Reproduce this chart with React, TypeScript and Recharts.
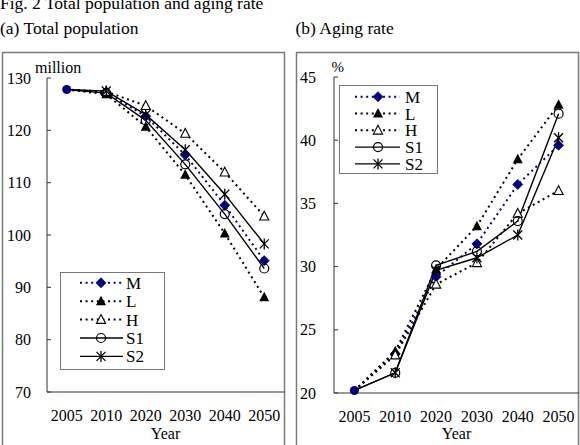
import React from 'react';
import { LineChart, Line, XAxis, YAxis, Legend } from 'recharts';

const FONT = '"Liberation Serif", "Times New Roman", serif';
const NAVY = '#000080';
const AXIS = '#333';

// category index on a numeric axis, so tick marks can sit between years
const years = ['2005', '2010', '2020', '2030', '2040', '2050'];
const yearIdx = [0, 1, 2, 3, 4, 5];
const bandEdges = [0.5, 1.5, 2.5, 3.5, 4.5, 5.5];

// (a) total population, million
const popM = [127.8, 127.2, 122.7, 115.3, 105.7, 95.1];
const popL = [127.8, 126.9, 120.7, 111.5, 100.3, 88.1];
const popH = [127.8, 127.4, 124.7, 119.4, 112.0, 103.6];
const popS1 = [127.8, 127.1, 121.9, 113.5, 104.0, 93.6];
const popS2 = [127.8, 127.5, 123.0, 116.3, 107.8, 98.3];
const popTicks = [70, 80, 90, 100, 110, 120, 130];

// (b) aging rate, %
const ageM = [20.2, 23.1, 29.2, 31.8, 36.5, 39.6];
const ageL = [20.2, 23.3, 29.8, 33.2, 38.5, 42.8];
const ageH = [20.2, 23.0, 28.6, 30.3, 34.2, 36.0];
const ageS1 = [20.2, 21.6, 30.1, 31.2, 33.6, 42.1];
const ageS2 = [20.2, 21.6, 29.7, 30.7, 32.5, 40.2];
const ageTicks = [20, 25, 30, 35, 40, 45];

type MarkKind = 'diamond' | 'triFill' | 'triOpen' | 'circle' | 'star';

interface SeriesDef {
  key: string;
  color: string;
  dotted: boolean;
  mark: MarkKind;
}

const series: SeriesDef[] = [
  { key: 'M', color: NAVY, dotted: true, mark: 'diamond' },
  { key: 'L', color: '#000', dotted: true, mark: 'triFill' },
  { key: 'H', color: '#000', dotted: true, mark: 'triOpen' },
  { key: 'S1', color: '#000', dotted: false, mark: 'circle' },
  { key: 'S2', color: '#000', dotted: false, mark: 'star' },
];

const buildRows = (cols: Record<string, number[]>) =>
  yearIdx.map(i => {
    const row: Record<string, number> = { i };
    Object.keys(cols).forEach(k => (row[k] = cols[k][i]));
    return row;
  });

const popData = buildRows({ M: popM, L: popL, H: popH, S1: popS1, S2: popS2 });
const ageData = buildRows({ M: ageM, L: ageL, H: ageH, S1: ageS1, S2: ageS2 });

const Marker = ({ kind, x, y }: { kind: MarkKind; x: number; y: number }) => {
  switch (kind) {
    case 'diamond':
      return (
        <polygon
          points={`${x},${y - 5} ${x + 5},${y} ${x},${y + 5} ${x - 5},${y}`}
          fill={NAVY}
          stroke={NAVY}
          strokeWidth={0.8}
        />
      );
    case 'triFill':
      return <polygon points={`${x},${y - 5.5} ${x + 5},${y + 4} ${x - 5},${y + 4}`} fill="#000" />;
    case 'triOpen':
      return (
        <polygon
          points={`${x},${y - 5} ${x + 4.6},${y + 3.8} ${x - 4.6},${y + 3.8}`}
          fill="#fff"
          stroke="#000"
          strokeWidth={1.1}
        />
      );
    case 'circle':
      return <circle cx={x} cy={y} r={4.5} fill="none" stroke="#000" strokeWidth={1.2} />;
    case 'star':
      return (
        <g stroke="#000" strokeWidth={1.3}>
          <line x1={x - 4.5} y1={y - 4.5} x2={x + 4.5} y2={y + 4.5} />
          <line x1={x - 4.5} y1={y + 4.5} x2={x + 4.5} y2={y - 4.5} />
          <line x1={x} y1={y - 5.5} x2={x} y2={y + 5.5} />
        </g>
      );
  }
  return null;
};

// base year is one shared observed point: drawn once as a filled navy dot
const dotFor = (s: SeriesDef) => (p: any) => {
  const { cx, cy, index } = p;
  const k = `${s.key}-${index}`;
  if (index === 0) {
    return s.key === 'M' ? <circle key={k} cx={cx} cy={cy} r={4.5} fill={NAVY} /> : <g key={k} />;
  }
  return (
    <g key={k}>
      <Marker kind={s.mark} x={cx} y={cy} />
    </g>
  );
};

interface LegendLayout {
  w: number;
  h: number;
  row0: number;
  gap: number;
  lx1: number;
  lx2: number;
  mx: number;
  tx: number;
}

const LegendBox = ({ l }: { l: LegendLayout }) => (
  <svg width={l.w} height={l.h} style={{ display: 'block' }}>
    <rect x={0.5} y={0.5} width={l.w - 1} height={l.h - 1} fill="#fff" stroke="#777" />
    {series.map((s, i) => {
      const y = l.row0 + i * l.gap;
      return (
        <g key={s.key}>
          <line
            x1={l.lx1}
            y1={y}
            x2={l.lx2}
            y2={y}
            stroke={s.color}
            strokeWidth={s.dotted ? 2 : 1.4}
            strokeDasharray={s.dotted ? '2 3.6' : undefined}
          />
          <Marker kind={s.mark} x={l.mx} y={y} />
          <text x={l.tx} y={y + 6} fontSize={17} fontFamily={FONT} fill="#000">
            {s.key}
          </text>
        </g>
      );
    })}
  </svg>
);

interface PanelProps {
  data: Record<string, number>[];
  ticks: number[];
  width: number;
  top: number;
  yAxisWidth: number;
  yTickMargin: number;
  bottom: number;
  legend: LegendLayout;
  legendLeft: number;
  legendTop: number;
}

const Panel = ({ data, ticks, width, top, yAxisWidth, yTickMargin, bottom, legend, legendLeft, legendTop }: PanelProps) => (
  <LineChart width={width} height={445} data={data} margin={{ top, right: 0, bottom: 0, left: 0 }}>
    {/* tick marks between the year bands */}
    <XAxis
      xAxisId="edge"
      dataKey="i"
      type="number"
      domain={[-0.5, 5.5]}
      ticks={bandEdges}
      interval={0}
      height={0}
      axisLine={false}
      tick={false}
      tickSize={-5}
      tickLine={{ stroke: AXIS }}
    />
    <XAxis
      xAxisId="yr"
      dataKey="i"
      type="number"
      domain={[-0.5, 5.5]}
      ticks={yearIdx}
      interval={0}
      height={bottom}
      tickFormatter={(v: number) => years[v]}
      tickLine={false}
      tickSize={0}
      tickMargin={18}
      axisLine={{ stroke: AXIS }}
      tick={{ fill: '#000', fontSize: 16, fontFamily: FONT }}
      label={{ value: 'Year', position: 'insideBottom', offset: 6.5, fill: '#000', fontSize: 16, fontFamily: FONT }}
    />
    <YAxis
      type="number"
      domain={[ticks[0], ticks[ticks.length - 1]]}
      ticks={ticks}
      interval={0}
      width={yAxisWidth}
      tickSize={-4}
      tickMargin={yTickMargin}
      axisLine={{ stroke: AXIS }}
      tickLine={{ stroke: AXIS }}
      tick={{ fill: '#000', fontSize: 16, fontFamily: FONT }}
    />
    <Legend
      layout="vertical"
      align="center"
      verticalAlign="middle"
      wrapperStyle={{ left: legendLeft, top: legendTop, width: legend.w, height: legend.h }}
      content={() => <LegendBox l={legend} />}
    />
    {series.map(s => (
      <Line
        key={s.key}
        xAxisId="yr"
        dataKey={s.key}
        type="linear"
        stroke={s.color}
        strokeWidth={s.dotted ? 2 : 1.4}
        strokeDasharray={s.dotted ? '2 3.6' : undefined}
        dot={dotFor(s)}
        activeDot={false}
        isAnimationActive={false}
      />
    ))}
  </LineChart>
);

const legendA: LegendLayout = { w: 105, h: 98, row0: 10.8, gap: 18.4, lx1: 20, lx2: 63, mx: 41, tx: 66 };
const legendB: LegendLayout = { w: 99, h: 89, row0: 11.7, gap: 16.8, lx1: 16, lx2: 61, mx: 39, tx: 66 };

const App: React.FC = () => (
  <div style={{ position: 'absolute', left: 0, top: 0, width: 580, height: 445, overflow: 'hidden', background: '#fff' }}>
    <svg width={580} height={445} style={{ position: 'absolute', left: 0, top: 0 }}>
      <rect x={2.5} y={52.5} width={282} height={420} fill="none" stroke="#7a7a7a" strokeWidth={1.5} />
      <rect x={296.5} y={52.5} width={282} height={420} fill="none" stroke="#7a7a7a" strokeWidth={1.5} />
      <g fontFamily={FONT} fill="#000">
        <text x={0} y={9} fontSize={17.5}>Fig. 2 Total population and aging rate</text>
        <text x={0} y={33.5} fontSize={17.5}>(a) Total population</text>
        <text x={295.5} y={33.5} fontSize={17.5}>(b) Aging rate</text>
        <text x={35} y={72.5} fontSize={16}>million</text>
        <text x={331.5} y={71.5} fontSize={15}>%</text>
      </g>
    </svg>
    <div style={{ position: 'absolute', left: 0, top: 0 }}>
      <Panel
        data={popData}
        ticks={popTicks}
        width={284}
        top={78}
        yAxisWidth={47}
        yTickMargin={20}
        bottom={53}
        legend={legendA}
        legendLeft={60}
        legendTop={272}
      />
    </div>
    <div style={{ position: 'absolute', left: 290, top: 0 }}>
      <Panel
        data={ageData}
        ticks={ageTicks}
        width={289}
        top={77}
        yAxisWidth={44}
        yTickMargin={22}
        bottom={52}
        legend={legendB}
        legendLeft={49}
        legendTop={85}
      />
    </div>
  </div>
);

export default App;
